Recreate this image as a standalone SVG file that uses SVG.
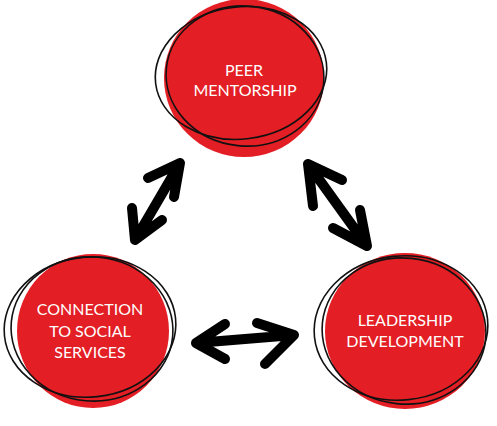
<svg xmlns="http://www.w3.org/2000/svg" width="497" height="426" viewBox="0 0 497 426">
<style>
.blob{fill:#e31e24}
.loop{fill:none;stroke:#111;stroke-width:1.6}
.lbl{font-family:Lato,"Open Sans","Liberation Sans",sans-serif;font-size:16px;fill:#fff;text-anchor:middle}
.arr{fill:none;stroke:#000;stroke-width:10;stroke-linecap:round;stroke-linejoin:round}
</style>
<rect width="497" height="426" fill="#fff"/>
<g id="peer-mentorship">
<ellipse class="blob" cx="244" cy="78" rx="80" ry="79"/>
<ellipse class="loop" cx="241" cy="73" rx="86" ry="66" transform="rotate(-7 241 73)"/>
<ellipse class="loop" cx="245" cy="76" rx="79" ry="70" transform="rotate(6 245 76)"/>
<text class="lbl" x="244" y="76">PEER</text>
<text class="lbl" x="245" y="96">MENTORSHIP</text>
</g>
<g id="connection-social-services">
<ellipse class="blob" cx="93" cy="331" rx="76" ry="77"/>
<ellipse class="loop" cx="90" cy="327" rx="86" ry="70" transform="rotate(-6 90 327)"/>
<ellipse class="loop" cx="92" cy="329" rx="81" ry="72" transform="rotate(5 92 329)"/>
<text class="lbl" x="90" y="315">CONNECTION</text>
<text class="lbl" x="90" y="337">TO SOCIAL</text>
<text class="lbl" x="90" y="358">SERVICES</text>
</g>
<g id="leadership-development">
<ellipse class="blob" cx="405" cy="331" rx="80" ry="78"/>
<ellipse class="loop" cx="401" cy="328" rx="87" ry="72" transform="rotate(-6 401 328)"/>
<ellipse class="loop" cx="404" cy="331" rx="82" ry="73" transform="rotate(6 404 331)"/>
<text class="lbl" x="405" y="326">LEADERSHIP</text>
<text class="lbl" x="405" y="347">DEVELOPMENT</text>
</g>
<g id="connectors">
<path class="arr" d="M180 163 L135 240 M148 178 L180 163 L174 197 M132 208 L135 240 L162 220"/>
<path class="arr" d="M308 164 L367 246 M342 180 L308 164 L313 206 M360 210 L367 246 L333 228"/>
<path class="arr" d="M196 343 L294 335 M225 324 L196 343 L225 359 M257 323 L294 335 L265 364"/>
</g>
</svg>
